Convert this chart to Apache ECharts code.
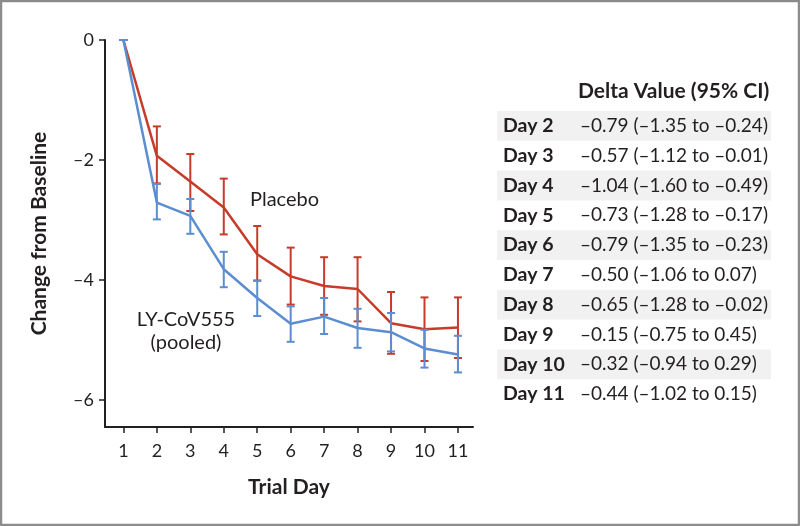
<!DOCTYPE html>
<html>
<head>
<meta charset="utf-8">
<script src="https://cdn.jsdelivr.net/npm/echarts@6/dist/echarts.min.js"></script>
<style>
  html, body { margin: 0; padding: 0; background: #fff; }
  #chart { width: 800px; height: 526px; }
</style>
</head>
<body>
<div id="chart"></div>
<script>
const days = [1, 2, 3, 4, 5, 6, 7, 8, 9, 10, 11];
const placebo = [0, -1.93, -2.36, -2.79, -3.57, -3.94, -4.10, -4.15, -4.72, -4.82, -4.79];
const placeboLow = [0, -2.39, -2.85, -3.24, -4.01, -4.41, -4.58, -4.69, -5.23, -5.35, -5.30];
const placeboHigh = [0, -1.44, -1.90, -2.31, -3.10, -3.46, -3.62, -3.62, -4.20, -4.29, -4.29];
const pooled = [0, -2.71, -2.93, -3.82, -4.30, -4.73, -4.61, -4.80, -4.87, -5.14, -5.24];
const pooledLow = [0, -2.99, -3.23, -4.12, -4.60, -5.03, -4.90, -5.13, -5.19, -5.46, -5.54];
const pooledHigh = [0, -2.40, -2.65, -3.53, -4.01, -4.44, -4.30, -4.48, -4.55, -4.83, -4.93];
const yTicks = [0, -2, -4, -6];

const tableDays = ["Day 2", "Day 3", "Day 4", "Day 5", "Day 6", "Day 7", "Day 8", "Day 9", "Day 10", "Day 11"];
const deltas = [-0.79, -0.57, -1.04, -0.73, -0.79, -0.50, -0.65, -0.15, -0.32, -0.44];
const ciLow = [-1.35, -1.12, -1.60, -1.28, -1.35, -1.06, -1.28, -0.75, -0.94, -1.02];
const ciHigh = [-0.24, -0.01, -0.49, -0.17, -0.23, 0.07, -0.02, 0.45, 0.29, 0.15];

const RED = "#c63b29";
const BLUE = "#5b8dd0";
const INK = "#231f20";
const FONT = "Lato";

const fmt = (v) => (v < 0 ? "\u2013" : "") + Math.abs(v).toFixed(2);

const errData = (lo, hi) => days.map((d, i) => [d, lo[i], hi[i]]);

const errorBars = (color) => (params, api) => {
  const top = api.coord([api.value(0), api.value(2)]);
  const bot = api.coord([api.value(0), api.value(1)]);
  const w = 4;
  const style = { stroke: color, lineWidth: 2 };
  return {
    type: "group",
    children: [
      { type: "line", shape: { x1: top[0], y1: top[1], x2: bot[0], y2: bot[1] }, style },
      { type: "line", shape: { x1: top[0] - w, y1: top[1], x2: top[0] + w, y2: top[1] }, style },
      { type: "line", shape: { x1: bot[0] - w, y1: bot[1], x2: bot[0] + w, y2: bot[1] }, style },
    ],
  };
};

// table drawn as graphic text
const rowTop = 111;
const rowH = 29.8;
const tableItems = [];
tableItems.push({
  type: "text",
  x: 578,
  y: 91,
  style: { text: "Delta Value (95% CI)", font: `bold 21px ${FONT}`, fill: INK, verticalAlign: "middle" },
});
tableDays.forEach((d, i) => {
  const y = rowTop + i * rowH;
  if (i % 2 === 0) {
    tableItems.push({
      type: "rect",
      shape: { x: 497, y: y, width: 274, height: rowH },
      style: { fill: "#f1f1f1" },
      z: 0,
    });
  }
  tableItems.push({
    type: "text",
    x: 503,
    y: y + rowH / 2,
    style: { text: d, font: `bold 19.5px ${FONT}`, fill: INK, verticalAlign: "middle" },
    z: 1,
  });
  tableItems.push({
    type: "text",
    x: 580,
    y: y + rowH / 2,
    style: {
      text: `${fmt(deltas[i])} (${fmt(ciLow[i])} to ${fmt(ciHigh[i])})`,
      font: `19px ${FONT}`,
      fill: INK,
      verticalAlign: "middle",
    },
    z: 1,
  });
});

const chart = echarts.init(document.getElementById("chart"));
chart.setOption({
  animation: false,
  backgroundColor: "#fff",
  grid: { left: 105, right: 327, top: 40, bottom: 99 },
  xAxis: {
    type: "value",
    min: 0.45,
    max: 11.45,
    name: "Trial Day",
    nameLocation: "middle",
    nameGap: 50,
    nameTextStyle: { fontFamily: FONT, fontWeight: "bold", fontSize: 21, color: INK },
    splitLine: { show: false },
    axisLine: { onZero: false, lineStyle: { color: INK, width: 2 } },
    axisTick: { customValues: days, length: 6, lineStyle: { color: INK, width: 1.5 } },
    axisLabel: { customValues: days, margin: 15, fontFamily: FONT, fontSize: 18, color: INK },
  },
  yAxis: {
    type: "value",
    min: -6.45,
    max: 0,
    name: "Change from Baseline",
    nameLocation: "middle",
    nameGap: 55,
    nameTextStyle: { fontFamily: FONT, fontWeight: "bold", fontSize: 21, color: INK },
    splitLine: { show: false },
    axisLine: { show: true, onZero: false, lineStyle: { color: INK, width: 2 } },
    axisTick: { show: true, customValues: yTicks, length: 6, lineStyle: { color: INK, width: 1.5 } },
    axisLabel: {
      customValues: yTicks,
      margin: 11,
      fontFamily: FONT,
      fontSize: 18,
      color: INK,
      formatter: (v) => (v < 0 ? "\u2013" + Math.abs(v) : String(v)),
    },
  },
  series: [
    {
      type: "line",
      data: days.map((d, i) => [d, placebo[i]]),
      symbol: "none",
      lineStyle: { color: RED, width: 2.5 },
      z: 2,
    },
    {
      type: "custom",
      data: errData(placeboLow, placeboHigh),
      renderItem: errorBars(RED),
      z: 3,
    },
    {
      type: "line",
      data: days.map((d, i) => [d, pooled[i]]),
      symbol: "none",
      lineStyle: { color: BLUE, width: 2.5 },
      z: 4,
    },
    {
      type: "custom",
      data: errData(pooledLow, pooledHigh),
      renderItem: errorBars(BLUE),
      z: 5,
    },
  ],
  graphic: [
    {
      type: "rect",
      shape: { x: 1, y: 1, width: 798, height: 524 },
      style: { fill: null, stroke: "#8c8c8c", lineWidth: 2.5 },
      z: 10,
    },
    {
      type: "text",
      x: 250,
      y: 200,
      style: { text: "Placebo", font: `20px ${FONT}`, fill: INK, verticalAlign: "middle" },
    },
    {
      type: "text",
      x: 186,
      y: 331,
      style: {
        text: "LY-CoV555\n(pooled)",
        font: `20px ${FONT}`,
        fill: INK,
        align: "center",
        verticalAlign: "middle",
        lineHeight: 23,
      },
    },
    ...tableItems,
  ],
});
</script>
</body>
</html>
